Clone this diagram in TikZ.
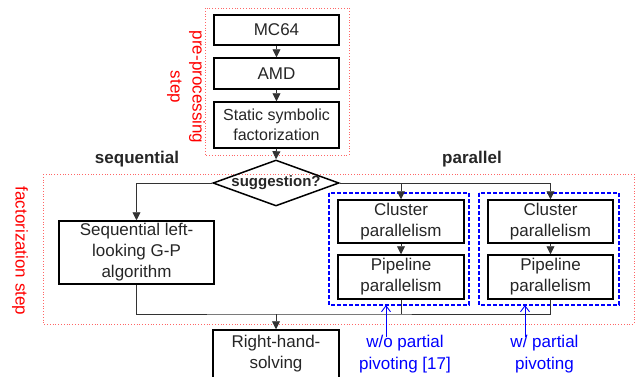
\documentclass[tikz,border=0pt]{standalone}
\usepackage{fontspec}
\setmainfont{Liberation Sans}
\usetikzlibrary{shapes.geometric,arrows.meta}
\definecolor{grpblue}{RGB}{0,0,255}
\begin{document}
\begin{tikzpicture}[x=1pt,y=-1pt,
  box/.style={draw=black, line width=1.5pt, text=black!85, inner sep=0pt, align=center,
    font=\fontsize{17}{21}\selectfont},
  conn/.style={draw=black!80, line width=0.9pt},
  arr/.style={conn, -{Triangle[length=8pt,width=8pt]}},
  redgrp/.style={draw=red!60, line width=0.8pt, dotted},
  bluegrp/.style={color=grpblue, line width=1.1pt, dash pattern=on 4pt off 2pt},
  redlbl/.style={text=red, font=\fontsize{17}{22}\selectfont, align=center, rotate=-90},
  bluelbl/.style={text=grpblue, font=\fontsize{17}{22}\selectfont, align=center},
  bluearr/.style={color=grpblue, line width=0.9pt, -{Straight Barb[length=6pt,width=9pt]}},
  hdr/.style={text=black!85, font=\fontsize{17}{21}\selectfont\bfseries}
]
\useasboundingbox (0,0) rectangle (635,376);

% groups
\draw[redgrp] (205,8) rectangle (349,155);
\draw[redgrp] (43,174) rectangle (634,324);
\draw[bluegrp] (329,193) rectangle (469,305);
\draw[bluegrp] (479,193) rectangle (619,305);

% boxes
\node[box, minimum width=125pt, minimum height=30pt] (mc) at (276.5,30) {MC64};
\node[box, minimum width=125pt, minimum height=31pt] (amd) at (276.5,73.5) {AMD};
\node[box, minimum width=125pt, minimum height=46pt, font=\fontsize{16}{20}\selectfont] (ssf) at (276.5,125) {Static symbolic\\factorization};
\node[diamond, draw=black, line width=1.5pt, minimum width=126pt, minimum height=46pt, inner sep=0pt,
  label={[text=black!85, font=\fontsize{15}{18}\selectfont\bfseries]center:suggestion?}] (sug) at (276,183) {};
\node[box, minimum width=155pt, minimum height=63pt] (seq) at (136.5,252.5) {Sequential left-\\looking G-P\\algorithm};
\node[box, minimum width=126pt, minimum height=43pt] (cl) at (401,221.5) {Cluster\\parallelism};
\node[box, minimum width=126pt, minimum height=44pt] (pl) at (401,277) {Pipeline\\parallelism};
\node[box, minimum width=125pt, minimum height=43pt] (cr) at (550.5,221.5) {Cluster\\parallelism};
\node[box, minimum width=125pt, minimum height=44pt] (pr) at (550.5,277) {Pipeline\\parallelism};
\node[box, minimum width=126pt, minimum height=48pt] (rhs) at (276,354) {Right-hand-\\solving};

% labels
\node[redlbl] (pre) at (186,87) {pre-processing\\step};
\node[redlbl] (fac) at (20,251) {factorization step};
\node[hdr] (seqh) at (137,159) {sequential};
\node[hdr] (parh) at (472,159) {parallel};
\node[bluelbl] (wo) at (405,354) {w/o partial\\pivoting [17]};
\node[bluelbl] (w) at (544.5,354) {w/ partial\\pivoting};
\coordinate (woa) at (386,337);
\coordinate (wa) at (525,337);

% connectors
\draw[arr] (mc.south) -- (amd.north);
\draw[arr] (amd.south) -- (ssf.north);
\draw[arr] (ssf.south) -- (sug.north);
\draw[arr] (sug.west) -| (seq.north);
\draw[arr] (sug.east) -| (cl.north);
\draw[arr] (sug.east) -| (cr.north);
\draw[arr] (cl.south) -- (pl.north);
\draw[arr] (cr.south) -- (pr.north);
\coordinate (j) at (276,314);
\draw[conn] (seq.south) |- (j) -| (pr.south);
\draw[conn] (pl.south) -- (pl.south |- j);
\draw[arr] (j) -- (rhs.north);
\draw[bluearr] (woa) -- (woa |- 0,305);
\draw[bluearr] (wa) -- (wa |- 0,305);
\end{tikzpicture}
\end{document}
